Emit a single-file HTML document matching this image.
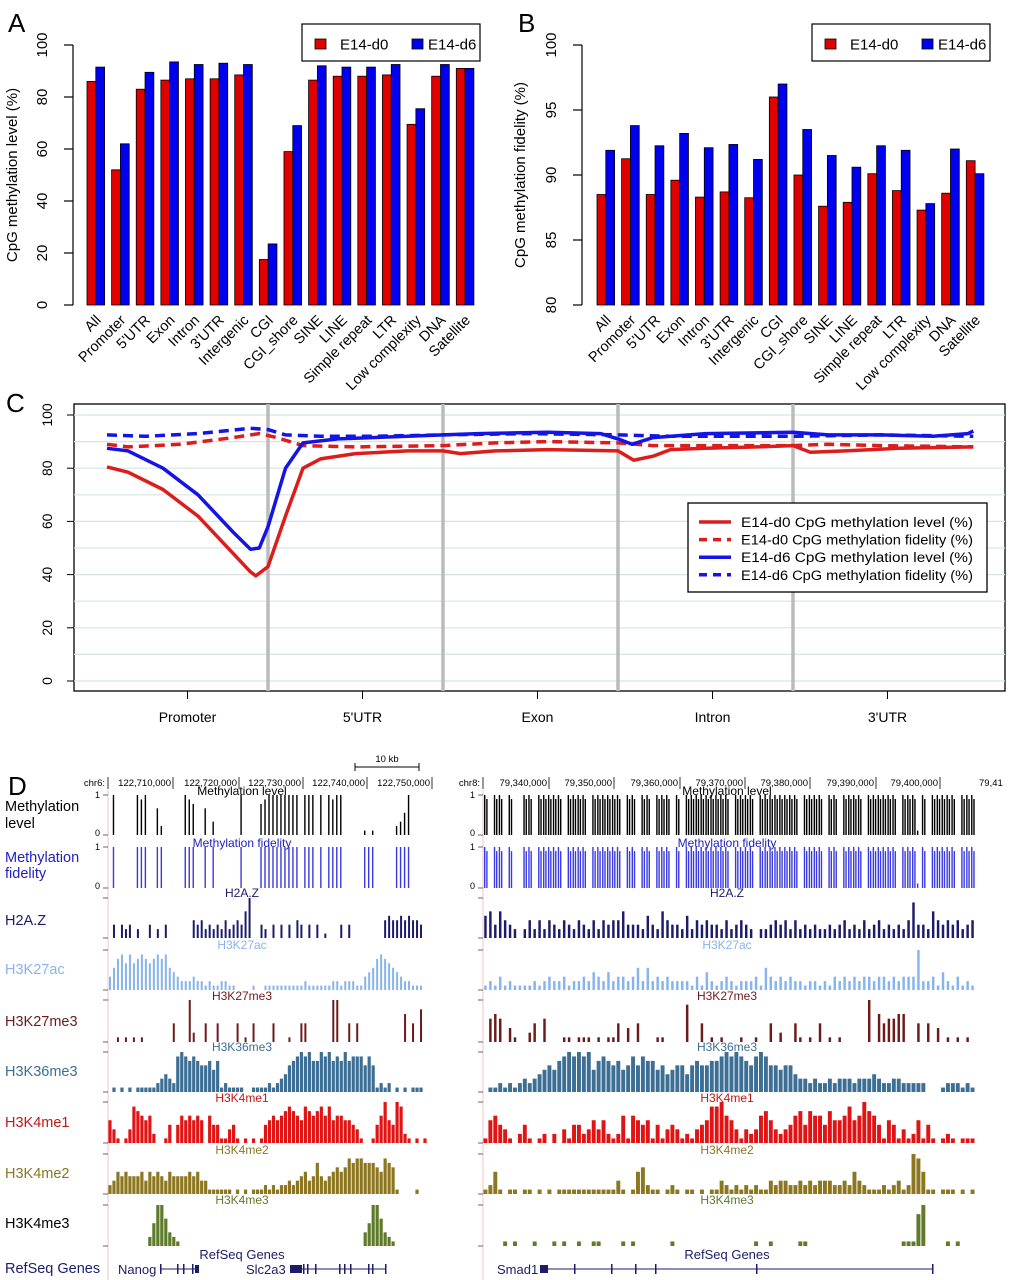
<!DOCTYPE html>
<html><head><meta charset="utf-8"><style>
html,body{margin:0;padding:0;background:#fff}
svg{display:block;font-family:"Liberation Sans",sans-serif}
</style></head><body>
<svg id="fig" width="1010" height="1280" viewBox="0 0 1010 1280" xmlns="http://www.w3.org/2000/svg">
<text x="8" y="32" font-size="26">A</text>
<text x="518" y="32" font-size="26">B</text>
<text x="6" y="412" font-size="26">C</text>
<text x="8" y="795" font-size="26">D</text>
<g id="pa"></g>
<g id="pb"></g>
<g id="pc"></g>
<g id="pd"></g>
</svg>
<script>
const categories = ["All","Promoter","5'UTR","Exon","Intron","3'UTR","Intergenic","CGI","CGI_shore","SINE","LINE","Simple repeat","LTR","Low complexity","DNA","Satellite"];
const levelD0 = [86,52,83,86.5,87,87,88.5,17.5,59,86.5,88,88,88.5,69.5,88,91];
const levelD6 = [91.5,62,89.5,93.5,92.5,93,92.5,23.5,69,92,91.5,91.5,92.5,75.5,92.5,91];
const fidelityD0 = [88.5,91.25,88.5,89.6,88.3,88.7,88.25,96,90,87.6,87.9,90.1,88.8,87.3,88.6,91.1];
const fidelityD6 = [91.9,93.8,92.25,93.2,92.1,92.35,91.2,97,93.5,91.5,90.6,92.25,91.9,87.8,92,90.1];
const ticksA = [0,20,40,60,80,100];
const ticksB = [80,85,90,95,100];

const regions = ["Promoter","5'UTR","Exon","Intron","3'UTR"];
const ticksC = [0,20,40,60,80,100];
const posD0L = [0.08,0.2,0.4,0.6,0.8,0.9,0.93,1.0,1.1,1.2,1.3,1.5,1.8,2.0,2.1,2.3,2.6,3.0,3.09,3.2,3.3,3.5,3.8,4.0,4.1,4.3,4.6,5.03];
const valD0L = [80.5,78.5,72,62,48,41,39.5,43,62,80,83.5,85.5,86.5,86.5,85.5,86.5,87,86.5,83,84.5,87,87.5,88,88.5,86,86.5,87.5,88];
const posD6L = [0.08,0.2,0.4,0.6,0.8,0.9,0.95,1.0,1.1,1.2,1.4,1.8,2.0,2.2,2.6,2.9,3.0,3.08,3.2,3.5,4.0,4.2,4.5,4.8,5.0,5.03];
const valD6L = [87.5,86.5,80,70,56,49.5,50,58,80,89.5,91,92,92.5,93,93.5,93,91,89,91.5,93,93.5,92.5,92.5,92,93,94];
const posD0F = [0.08,0.2,0.5,0.8,0.95,1.05,1.2,1.5,2.0,2.3,2.6,3.0,3.2,3.6,4.0,4.2,4.5,5.03];
const valD0F = [89,88,89,91.5,93,91.5,88.5,88,88.5,89.5,90,89.5,88.5,88.5,88.5,89,88.5,88];
const posD6F = [0.08,0.3,0.6,0.9,1.0,1.1,1.3,1.6,2.0,2.5,3.0,3.3,4.0,4.5,5.03];
const valD6F = [92.5,92,93,95,94.5,92.5,92,92,92.5,93,92.5,92,92,92.5,92];

const lvlL="09000009890062000009870060300000090000789999999909990909899000001010000023590000";
const fidL="09000009990099000009990090900000090000999999999909990909999000009990000099990000";
const h2azL="03032302003020300000043423232423436900320303030430303010003030000000045445454430";
const h3k27acL="35786867876787854322232212112211000010011111111112111111221222113457876543221110";
const h3k27me3L="00101010100000004000920040040000401040000400010044000000990040400000000000604070";
const h3k36me3L="01010101111123432898787667571211110011112123467898977989787978886861212010101110";
const h3k4me1L="53101387656200140465656506441134101010145656787658767868566554310014695498210101";
const h3k4me2L="23545444535454354444545331111110101011121212232345347434565687887776587610000100";
const h3k4me3L="00000000002599632100000000000000000000000000000000000000000000003599632100000000";
const lvlR="9099090099099999099990999999099099099909099999999909999099999999099990990999909999990999190999990999";
const fidR="9099090099099999099990999999099099099909099999999909999099999999099990990999909999990999190999990999";
const h2azR="5636432024242432432432424344633325326433252434332423432022343424232322323423242342323248332643434234";
const h3k27acR="1213121111212322312232432423323525232322221314212321222315323232212212132323233233232333922314213121";
const h3k27me3R="0565031002405000110111010114030400011000080040101000100100402004101040101000009064556600404030101010";
const h3k36me3R="0112121232345657898989578767568687756456646766778989876898665664332322323332333432233222220001222121";
const h3k4me1R="1564310241012020314423535212616545141343121345889653132367532346747664755685697641541312514101210111";
const h3k4me2R="1251011011010101111111111113101562110121011010113212121211323322323233322325321112123129851101110101";
const h3k4me3R="0000101000100010100100110000101000000010000000000000000100100000110000000000000000000111790000101000";

const NS="http://www.w3.org/2000/svg";
function mk(parent,tag,attrs,text){const e=document.createElementNS(NS,tag);for(const k in attrs)e.setAttribute(k,attrs[k]);if(text!==undefined)e.textContent=text;parent.appendChild(e);return e;}

function barPanel(g,x0,axisX,yMin,yMax,yTop,yBot,d0,d6,ticks,title,titleX,legX){
  const ys=v=>yBot-(v-yMin)/(yMax-yMin)*(yBot-yTop);
  const step=24.62,bw=8.8;
  const ax=mk(g,"line",{x1:axisX,x2:axisX,y1:ys(ticks[0]),y2:ys(ticks[ticks.length-1]),stroke:"#000","stroke-width":1.2});
  
  
  ticks.forEach(t=>{
    const tl=mk(g,"line",{x1:axisX-9,x2:axisX,y1:ys(t),y2:ys(t),stroke:"#000","stroke-width":1.2});
    
    
    const tx=mk(g,"text",{x:0,y:0,"font-size":15,"text-anchor":"middle",transform:`translate(${axisX-26},${ys(t)}) rotate(-90)`},String(t));
    
    
  });
  const tt=mk(g,"text",{x:0,y:0,"font-size":15,"text-anchor":"middle",transform:`translate(${titleX},175) rotate(-90)`},title);
  
  
  categories.forEach((c,i)=>{
    const gx=x0+i*step;
    const r=mk(g,"rect",{x:gx,y:ys(d0[i]),width:bw,height:yBot-ys(d0[i]),fill:"#e00000",stroke:"#000","stroke-width":0.8});
    
    
    const b=mk(g,"rect",{x:gx+bw,y:ys(d6[i]),width:bw,height:yBot-ys(d6[i]),fill:"#0000f0",stroke:"#000","stroke-width":0.8});
    
    
    const l=mk(g,"text",{x:0,y:0,"font-size":14.5,"text-anchor":"end",transform:`translate(${gx+bw+6},${yBot+16}) rotate(-45)`},c);
    
    
  });
  const lg=mk(g,"g",{});
  
  
  mk(lg,"rect",{x:legX,y:24,width:178,height:37,fill:"#fff",stroke:"#000","stroke-width":1.2});
  mk(lg,"rect",{x:legX+13,y:39,width:11,height:10,fill:"#e00000",stroke:"#000","stroke-width":0.8});
  mk(lg,"text",{x:legX+38,y:49.5,"font-size":15},"E14-d0");
  mk(lg,"rect",{x:legX+110,y:39,width:11,height:10,fill:"#0000f0",stroke:"#000","stroke-width":0.8});
  mk(lg,"text",{x:legX+126,y:49.5,"font-size":15},"E14-d6");
}
barPanel(document.getElementById("pa"),87,73,0,100,45,305,levelD0,levelD6,ticksA,"CpG methylation level (%)",17,302);
barPanel(document.getElementById("pb"),597,582,80,100,45,305,fidelityD0,fidelityD6,ticksB,"CpG methylation fidelity (%)",525,812);

// Panel C
(function(){
  const g=document.getElementById("pc");
  const xs=p=>93+p*175, ys=v=>681-v*2.66;
  mk(g,"rect",{x:74,y:404,width:931,height:287,fill:"#fff",stroke:"#000","stroke-width":1.3});
  for(let v=0;v<=100;v+=10){const l=mk(g,"line",{x1:74,x2:1005,y1:ys(v),y2:ys(v),stroke:"#d8e4e4","stroke-width":1.2});
    
    }
  [1,2,3,4].forEach(b=>{const l=mk(g,"line",{x1:xs(b),x2:xs(b),y1:404,y2:691,stroke:"#bbb","stroke-width":3.5});
    
    });
  ticksC.forEach(t=>{
    const tl=mk(g,"line",{x1:67,x2:74,y1:ys(t),y2:ys(t),stroke:"#000"});
    
    
    const tx=mk(g,"text",{x:0,y:0,"font-size":14,"text-anchor":"middle",transform:`translate(52,${ys(t)}) rotate(-90)`},String(t));
    
    
  });
  regions.forEach((r,i)=>{
    const x=xs(i+0.54);
    const tl=mk(g,"line",{x1:x,x2:x,y1:691,y2:699,stroke:"#000"});
    
    
    const t=mk(g,"text",{x:x,y:722,"font-size":14,"text-anchor":"middle"},r);
    
    
  });
  function line(pos,val,color,dash,name){
    const d=pos.map((p,i)=>(i?"L":"M")+xs(p).toFixed(1)+","+ys(val[i]).toFixed(1)).join("");
    const a={d:d,fill:"none",stroke:color,"stroke-width":3.5,"stroke-linejoin":"round","stroke-linecap":"butt"};
    if(dash)a["stroke-dasharray"]="10,6";
    const p=mk(g,"path",a);
    
    
  }
  line(posD0F,valD0F,"#dd1c1c",true,"line-e14-d0-fidelity");
  line(posD6F,valD6F,"#1414e6",true,"line-e14-d6-fidelity");
  line(posD0L,valD0L,"#dd1c1c",false,"line-e14-d0-level");
  line(posD6L,valD6L,"#1414e6",false,"line-e14-d6-level");
  const lg=mk(g,"g",{});
  
  
  mk(lg,"rect",{x:688,y:503,width:299,height:89,fill:"#fff",stroke:"#000","stroke-width":1.3});
  const items=[["E14-d0 CpG methylation level (%)","#dd1c1c",false],["E14-d0 CpG methylation fidelity (%)","#dd1c1c",true],["E14-d6 CpG methylation level (%)","#1414e6",false],["E14-d6 CpG methylation fidelity (%)","#1414e6",true]];
  items.forEach((it,i)=>{
    const y=522+i*17.6;
    const a={x1:699,x2:731,y1:y,y2:y,stroke:it[1],"stroke-width":3.5};
    if(it[2])a["stroke-dasharray"]="8,6";
    mk(lg,"line",a);
    mk(lg,"text",{x:741,y:y+5,"font-size":13.5,textLength:232,lengthAdjust:"spacingAndGlyphs"},it[0]);
  });
})();

// Panel D
(function(){
  const g=document.getElementById("pd");
  const panels=[{x0:108,x1:427,cx:242},{x0:483,x1:975,cx:727}];
  const hdr=[["chr6:",[108,173,239,303,367,432],["","122,710,000","122,720,000","122,730,000","122,740,000","122,750,000"]],
             ["chr8:",[483,549,614,680,745,810,876,940],["","79,340,000","79,350,000","79,360,000","79,370,000","79,380,000","79,390,000","79,400,000"]]];
  hdr.forEach((h,pi)=>{
    const p=panels[pi];
    const t=mk(g,"text",{x:p.x0-3,y:786,"font-size":9.5,"text-anchor":"end"},h[0]);
    
    
    h[1].forEach((x,i)=>{
      mk(g,"line",{x1:x,x2:x,y1:777,y2:789,stroke:"#000","stroke-width":0.8});
      if(h[2][i]){const tl=mk(g,"text",{x:x-2,y:786,"font-size":9.5,"text-anchor":"end"},h[2][i]);
        
        }
    });
    mk(g,"line",{x1:p.x0,x2:p.x0,y1:790,y2:1280,stroke:"#f0c0c8","stroke-width":1});
  });
  mk(g,"text",{x:979,y:786,"font-size":9.5,"text-anchor":"start"},"79,41");
  mk(g,"line",{x1:355,x2:419,y1:767,y2:767,stroke:"#000"});
  mk(g,"line",{x1:355,x2:355,y1:763,y2:771,stroke:"#000"});
  mk(g,"line",{x1:419,x2:419,y1:763,y2:771,stroke:"#000"});
  const sb=mk(g,"text",{x:387,y:762,"font-size":9.5,"text-anchor":"middle"},"10 kb");
  
  

  const tracks=[
    {name:"Methylation level",label:["Methylation","level"],ly:[806,823],col:"#000",lcol:"#000",top:795,base:835,L:lvlL,R:lvlR,line:true,ty:791},
    {name:"Methylation fidelity",label:["Methylation","fidelity"],ly:[857,873],col:"#3a3ae0",lcol:"#2020c0",top:847,base:888,L:fidL,R:fidR,line:true,ty:843},
    {name:"H2A.Z",label:["H2A.Z"],ly:[920],col:"#1c1c6a",lcol:"#1c1c6a",top:898,base:938,L:h2azL,R:h2azR,ty:893,thin:true},
    {name:"H3K27ac",label:["H3K27ac"],ly:[969],col:"#86b4ee",lcol:"#86b4ee",top:950,base:990,L:h3k27acL,R:h3k27acR,ty:945,thin:true},
    {name:"H3K27me3",label:["H3K27me3"],ly:[1021],col:"#6e1a1a",lcol:"#6e1a1a",top:1000,base:1042,L:h3k27me3L,R:h3k27me3R,ty:996,thin:true},
    {name:"H3K36me3",label:["H3K36me3"],ly:[1071],col:"#3d6f95",lcol:"#3d6f95",top:1052,base:1092,L:h3k36me3L,R:h3k36me3R,ty:1047},
    {name:"H3K4me1",label:["H3K4me1"],ly:[1122],col:"#e01414",lcol:"#c01818",top:1102,base:1143,L:h3k4me1L,R:h3k4me1R,ty:1098},
    {name:"H3K4me2",label:["H3K4me2"],ly:[1173],col:"#8c7620",lcol:"#8c7620",top:1154,base:1194,L:h3k4me2L,R:h3k4me2R,ty:1150},
    {name:"H3K4me3",label:["H3K4me3"],ly:[1223],col:"#5f7a2a",lcol:"#000",top:1205,base:1246,L:h3k4me3L,R:h3k4me3R,ty:1200}
  ];
  tracks.forEach(tr=>{
    tr.label.forEach((s,i)=>{const t=mk(g,"text",{x:5,y:tr.ly[i]+5,"font-size":14.5,fill:tr.lcol},s);
      
      });
    [tr.L,tr.R].forEach((str,pi)=>{
      const p=panels[pi];
      const tt=mk(g,"text",{x:p.cx,y:tr.ty+4,"font-size":12,"text-anchor":"middle",fill:tr.lcol==="#000"&&!tr.line?tr.col:tr.lcol},tr.name);
      
      
      mk(g,"line",{x1:p.x0-5,x2:p.x0,y1:tr.top,y2:tr.top,stroke:"#444","stroke-width":0.8});
      mk(g,"line",{x1:p.x0-5,x2:p.x0,y1:tr.base,y2:tr.base,stroke:"#444","stroke-width":0.8});
      if(tr.line){
        mk(g,"text",{x:p.x0-8,y:tr.top+3,"font-size":9,"text-anchor":"end"},"1");
        mk(g,"text",{x:p.x0-8,y:tr.base+1,"font-size":9,"text-anchor":"end"},"0");
      }
      const n=str.length, bw=(p.x1-p.x0)/n, H=tr.base-tr.top;
      for(let i=0;i<n;i++){
        const v=+str[i]; if(!v)continue;
        const h=v/9*H;
        let r;
        if(tr.line){
          r=mk(g,"rect",{x:p.x0+i*bw+bw*0.2,y:tr.base-h,width:1.4,height:h,fill:tr.col});
          if(pi===1&&v>=5){
            const r2=mk(g,"rect",{x:p.x0+i*bw+bw*0.65,y:tr.base-h*0.9,width:1.4,height:h*0.9,fill:tr.col});
            
            
          }
        }else if(tr.thin){
          r=mk(g,"rect",{x:p.x0+i*bw+bw*0.25,y:tr.base-h,width:Math.max(1.2,bw*0.5),height:h,fill:tr.col});
        }else{
          r=mk(g,"rect",{x:p.x0+i*bw+bw*0.1,y:tr.base-h,width:bw*0.8,height:h,fill:tr.col});
        }
        
        
      }
    });
  });
  const rl=mk(g,"text",{x:5,y:1273,"font-size":14.5,fill:"#1c1c6a"},"RefSeq Genes");
  
  
  panels.forEach(p=>{mk(g,"text",{x:p.cx,y:1259,"font-size":13,"text-anchor":"middle",fill:"#1c1c6a"},"RefSeq Genes");});
  const gc="#1c1c6a";
  function gene(name,tx,x0,x1,blocks,ticks){
    const gg=mk(g,"g",{});
    
    
    mk(gg,"text",{x:tx,y:1274,"font-size":13,fill:gc},name);
    mk(gg,"line",{x1:x0,x2:x1,y1:1269,y2:1269,stroke:gc,"stroke-width":1});
    blocks.forEach(b=>mk(gg,"rect",{x:b[0],y:1265,width:b[1]-b[0],height:8,fill:gc}));
    ticks.forEach(t=>mk(gg,"rect",{x:t,y:1264,width:1.5,height:10,fill:gc}));
  }
  gene("Nanog",118,160,198,[[195,199]],[160,177,183,192]);
  gene("Slc2a3",246,290,385,[[290,302]],[303,307,315,339,344,350,368,372,385]);
  gene("Smad1",497,540,932,[[540,548]],[574,611,635,655,756,932]);
})();
</script>
</body></html>
